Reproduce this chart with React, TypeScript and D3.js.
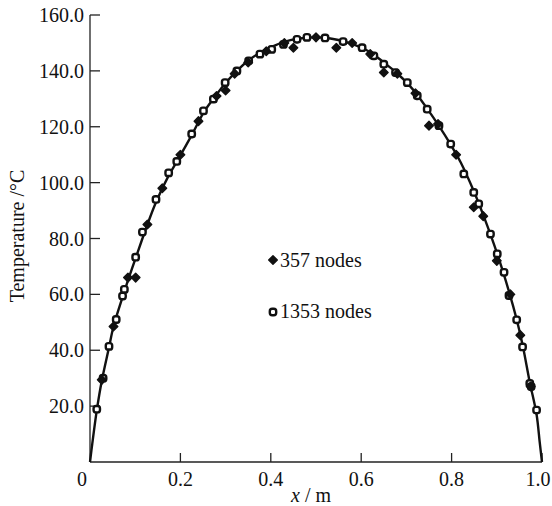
import React from "react";
import * as d3 from "d3";

// Smooth fitted curve
const curveX = [0, 0.005, 0.015, 0.026, 0.042, 0.052, 0.072, 0.084, 0.101, 0.116, 0.127, 0.146, 0.174, 0.192, 0.225, 0.251, 0.273, 0.299, 0.325, 0.351, 0.376, 0.402, 0.428, 0.458, 0.495, 0.532, 0.569, 0.605, 0.628, 0.65, 0.676, 0.702, 0.724, 0.746, 0.772, 0.798, 0.82, 0.849, 0.871, 0.901, 0.927, 0.944, 0.957, 0.973, 0.988, 0.995, 1.0];
const curveT = [0, 6.5, 18.5, 29, 41, 48.5, 59, 65, 73, 80, 85, 93, 102.5, 107.5, 117, 125, 130, 135.5, 140, 143.8, 146.5, 148.6, 150.3, 151.5, 152, 151.6, 150.2, 148, 145.8, 143, 139.6, 135.6, 131.4, 126.5, 120.3, 113.6, 107.3, 97, 88, 74.5, 61, 51, 42, 28.5, 17, 7, 0];

// 357 nodes (filled markers)
const coarseX = [0.026, 0.052, 0.084, 0.101, 0.127, 0.16, 0.2, 0.24, 0.28, 0.3, 0.32, 0.35, 0.39, 0.43, 0.45, 0.5, 0.545, 0.58, 0.62, 0.65, 0.68, 0.72, 0.75, 0.77, 0.81, 0.849, 0.87, 0.9, 0.93, 0.952, 0.975];
const coarseT = [29.4, 48.5, 66, 66, 85, 98, 110, 122, 131, 133, 139, 143, 147, 150, 148.3, 152, 148.3, 150, 146, 139.4, 139, 132, 120.4, 121, 110, 91.2, 88, 72, 60, 45.4, 27];

// 1353 nodes (open markers)
const fineX = [0.015, 0.029, 0.042, 0.058, 0.072, 0.076, 0.101, 0.116, 0.146, 0.174, 0.192, 0.225, 0.251, 0.273, 0.299, 0.325, 0.351, 0.376, 0.402, 0.428, 0.458, 0.48, 0.52, 0.56, 0.602, 0.628, 0.65, 0.676, 0.702, 0.724, 0.746, 0.772, 0.798, 0.827, 0.849, 0.86, 0.886, 0.901, 0.916, 0.927, 0.944, 0.957, 0.973, 0.976, 0.988];
const fineT = [18.9, 30, 41.4, 51, 59.4, 61.8, 73.3, 82.3, 94, 103.5, 107.6, 117.4, 125.7, 129.9, 135.8, 140, 143.6, 146, 147.7, 149.5, 151.3, 152, 151.8, 150.5, 148.3, 145.4, 142.4, 139.4, 135.8, 131.1, 126.3, 120.4, 113.8, 103.1, 96.5, 92.4, 81.6, 74.5, 67.9, 59.6, 50.9, 41.2, 28.1, 27, 18.6];

const xTicks = [0, 0.2, 0.4, 0.6, 0.8, 1.0];
const xTickLabels = ["0", "0.2", "0.4", "0.6", "0.8", "1.0"];
const yTicks = [20, 40, 60, 80, 100, 120, 140, 160];
const legendLabels = ["357 nodes", "1353 nodes"];

const W = 552, H = 506;
const FONT = "'Liberation Serif', 'Times New Roman', serif";

export default function App() {
  const x = d3.scaleLinear().domain([0, 1]).range([90, 542]);
  const y = d3.scaleLinear().domain([0, 160]).range([462, 15]);

  const line = d3
    .line<number>()
    .x((_, i) => x(curveX[i]))
    .y((d) => y(d))
    .curve(d3.curveCatmullRom.alpha(0.5));

  const diamond = (cx: number, cy: number, r = 4.3) =>
    `M${cx},${cy - r}L${cx + r},${cy}L${cx},${cy + r}L${cx - r},${cy}Z`;

  const labelX = (t: number) => (t === 0 ? x(t) - 8 : t === 1 ? x(t) - 4 : x(t));

  return (
    <svg width={W} height={H} style={{ position: "absolute", left: 0, top: 0, background: "#fff" }}>
      <rect x={0} y={0} width={W} height={H} fill="#fff" />
      {/* axes */}
      <line x1={x(0)} x2={x(0)} y1={y(160)} y2={y(0)} stroke="#222" strokeWidth={1.3} />
      <line x1={x(0)} x2={x(1)} y1={y(0)} y2={y(0)} stroke="#222" strokeWidth={1.3} />
      {yTicks.map((t) => (
        <g key={"yt" + t}>
          <line x1={x(0)} x2={x(0) + 10} y1={y(t)} y2={y(t)} stroke="#222" strokeWidth={1.3} />
          <text x={x(0) - 6} y={y(t)} dy="0.35em" textAnchor="end" fontFamily={FONT} fontSize={20} fill="#111">
            {t.toFixed(1)}
          </text>
        </g>
      ))}
      {xTicks.map((t, i) => (
        <g key={"xt" + t}>
          {t > 0 && (
            <line x1={x(t)} x2={x(t)} y1={y(0)} y2={y(0) - 9} stroke="#222" strokeWidth={1.3} />
          )}
          <text x={labelX(t)} y={486} textAnchor="middle" fontFamily={FONT} fontSize={20} fill="#111">
            {xTickLabels[i]}
          </text>
        </g>
      ))}
      <text x={311} y={502} textAnchor="middle" fontFamily={FONT} fontSize={20} fill="#111">
        <tspan fontStyle="italic">x</tspan>
        <tspan> / m</tspan>
      </text>
      <text
        transform={`translate(24,236) rotate(-90)`}
        textAnchor="middle"
        fontFamily={FONT}
        fontSize={20}
        fill="#111"
      >
        Temperature /°C
      </text>

      {/* curve */}
      <path d={line(curveT) || ""} fill="none" stroke="#111" strokeWidth={2.4} />

      {/* 1353 nodes markers */}
      {fineX.map((v, i) => (
        <rect
          key={"f" + i}
          x={x(v) - 3.2}
          y={y(fineT[i]) - 3.2}
          width={6.4}
          height={6.4}
          rx={2.4}
          fill="#fff"
          stroke="#111"
          strokeWidth={2.4}
        />
      ))}
      {/* 357 nodes markers */}
      {coarseX.map((v, i) => (
        <path key={"c" + i} d={diamond(x(v), y(coarseT[i]))} fill="#111" stroke="#111" strokeWidth={1.4} strokeLinejoin="round" />
      ))}

      {/* legend */}
      <path d={diamond(273, 260)} fill="#111" stroke="#111" strokeWidth={1.4} strokeLinejoin="round" />
      <text x={280} y={267} fontFamily={FONT} fontSize={20} fill="#111">{legendLabels[0]}</text>
      <rect x={269.8} y={308.8} width={6.4} height={6.4} rx={2.4} fill="#fff" stroke="#111" strokeWidth={2.4} />
      <text x={280} y={318} fontFamily={FONT} fontSize={20} fill="#111">{legendLabels[1]}</text>
    </svg>
  );
}
